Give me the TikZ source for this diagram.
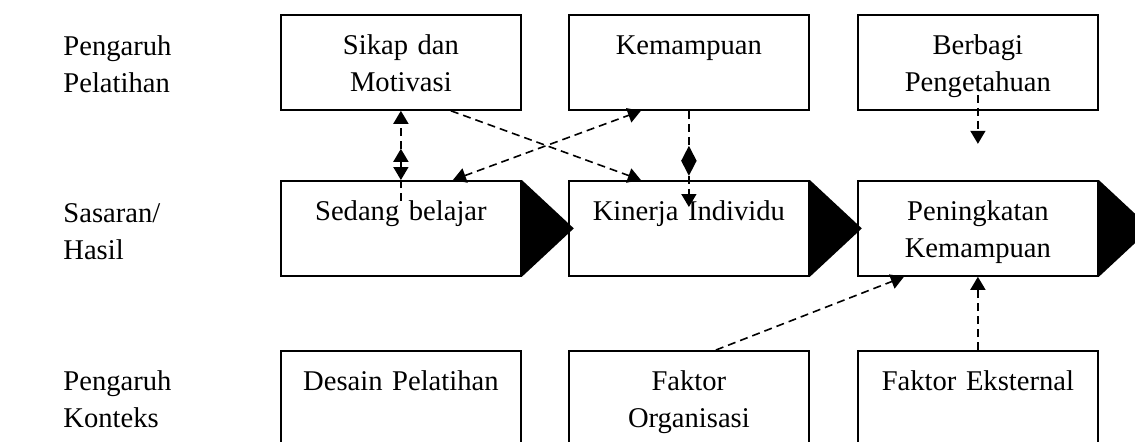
\documentclass[tikz,border=0pt]{standalone}
\usepackage{fontspec}
\setmainfont{Liberation Serif}
\usetikzlibrary{arrows.meta}

\begin{document}
\begin{tikzpicture}[x=0.5pt,y=-0.5pt,
  kotak/.style={draw,line width=0.9pt,anchor=north west,inner sep=0pt,text width=120pt,align=center,
    text height=20pt,text depth=27.5pt,font=\fontsize{14.3}{18.5}\selectfont},
  judul/.style={anchor=north west,inner sep=0pt,text width=100pt,align=left,
    text height=20pt,font=\fontsize{14.3}{18.5}\selectfont},
  putus/.style={line width=0.8pt,dash pattern=on 4pt off 2.5pt,-{Triangle[length=6.5pt,width=7.5pt]}},
  ujung/.style={line width=0.8pt,{Triangle[length=6.5pt,width=7.5pt]}-{Triangle[length=6.5pt,width=7.5pt]}}]
\useasboundingbox (0,0) rectangle (1135,441);
\clip (0,0) rectangle (1135,441);

% Judul baris
\node[judul] (jpelatihan) at (63,15) {Pengaruh\\Pelatihan};
\node[judul] (jhasil) at (63,182) {Sasaran/\\Hasil};
\node[judul] (jkonteks) at (63,350) {Pengaruh\\Konteks};

% Baris atas
\node[kotak] (sikap) at (280,14) {Sikap dan\\Motivasi};
\node[kotak] (kemampuan) at (568,14) {Kemampuan};
\node[kotak] (berbagi) at (857,14) {Berbagi\\Pengetahuan};

% Baris tengah (dengan segitiga hitam)
\node[kotak] (sedang) at (280,180) {Sedang belajar};
\node[kotak] (kinerja) at (568,180) {Kinerja Individu};
\node[kotak] (peningkatan) at (857,180) {Peningkatan\\Kemampuan};
\foreach \n in {sedang,kinerja,peningkatan}
  \fill (\n.north east) -- ([xshift=26pt]\n.east) -- (\n.south east) -- cycle;

% Baris bawah
\node[kotak] (desain) at (280,350) {Desain Pelatihan};
\node[kotak] (organisasi) at (568,350) {Faktor\\Organisasi};
\node[kotak] (eksternal) at (857,350) {Faktor Eksternal};

% Panah putus-putus
\coordinate (sdalam) at ([yshift=-10.5pt]sedang.north);
\coordinate (satas) at ([yshift=-19pt]sikap.south);
\draw[putus] (sdalam) -- (sikap.south);
\draw[ujung] (satas) -- (sedang.north);

\coordinate (kdalam) at ([yshift=-13.5pt]kinerja.north);
\coordinate (katas) at ([yshift=-17.5pt]kemampuan.south);
\coordinate (kbawah) at ([yshift=-32.5pt]kemampuan.south);
\draw[putus] (kemampuan.south) -- (kdalam);
\draw[line width=0.8pt,{Triangle[length=7.5pt,width=7.5pt]}-{Triangle[length=7.5pt,width=7.5pt]}] (katas) -- (kbawah);

\draw[putus] ([xshift=25pt]sikap.south) -- ([xshift=-24pt]kinerja.north);
\draw[putus,{Triangle[length=6.5pt,width=7.5pt]}-{Triangle[length=6.5pt,width=7.5pt]}]
  ([xshift=26pt]sedang.north) -- ([xshift=-24pt]kemampuan.south);

\coordinate (bdalam) at ([yshift=8pt]berbagi.south);
\coordinate (bujung) at ([yshift=-16.5pt]berbagi.south);
\draw[putus] (bdalam) -- (bujung);

\draw[putus] ([xshift=13.5pt]organisasi.north) -- ([xshift=-37pt]peningkatan.south);
\draw[putus] (eksternal.north) -- (peningkatan.south);
\end{tikzpicture}
\end{document}
